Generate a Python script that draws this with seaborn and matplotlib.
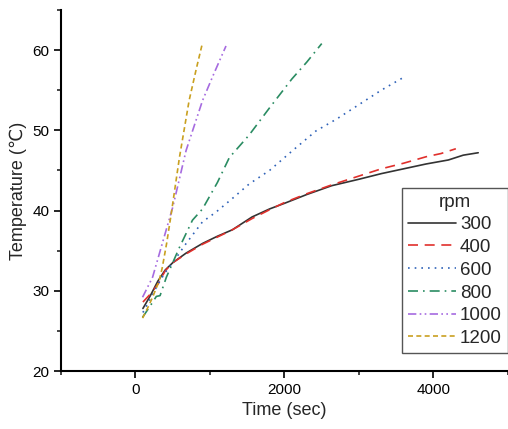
import pandas as pd
import seaborn as sns
import matplotlib.pyplot as plt
from matplotlib.ticker import MultipleLocator

# time (sec) / temperature (C) per rotation speed
t_300 = [100, 200, 300, 400, 500, 680, 900, 1100, 1300, 1565, 1800, 2000, 2300, 2635, 3000, 3300, 3600, 3900, 4200, 4400, 4600]
T_300 = [27.8, 29.4, 31.2, 32.6, 33.5, 34.7, 35.9, 36.8, 37.6, 39.2, 40.2, 40.9, 42.0, 43.1, 43.9, 44.6, 45.2, 45.8, 46.3, 46.9, 47.2]
t_400 = [100, 200, 300, 400, 500, 680, 900, 1100, 1300, 1565, 1800, 2000, 2300, 2635, 3000, 3300, 3600, 3900, 4100, 4300]
T_400 = [28.6, 29.6, 30.8, 32.5, 33.5, 34.6, 35.8, 36.7, 37.6, 39.0, 40.1, 41.0, 42.1, 43.2, 44.3, 45.2, 45.9, 46.7, 47.1, 47.7]
t_600 = [100, 200, 300, 400, 500, 680, 900, 1080, 1300, 1525, 1800, 2100, 2420, 2700, 3000, 3300, 3600]
T_600 = [27.3, 29.0, 30.8, 32.3, 33.5, 35.9, 38.6, 39.8, 41.5, 43.3, 45.0, 47.4, 49.9, 51.4, 53.2, 55.0, 56.6]
t_800 = [95, 190, 280, 330, 415, 590, 765, 900, 1100, 1260, 1525, 1800, 2100, 2300, 2500]
T_800 = [26.7, 28.0, 29.3, 29.4, 31.7, 35.4, 38.8, 40.2, 43.5, 46.6, 49.4, 52.8, 56.4, 58.5, 60.8]
t_1000 = [95, 230, 360, 500, 680, 900, 1050, 1215]
T_1000 = [29.2, 31.7, 35.9, 40.4, 47.5, 53.7, 57.0, 60.5]
t_1200 = [95, 160, 230, 320, 360, 420, 480, 590, 720, 820, 900]
T_1200 = [26.6, 27.8, 29.2, 31.3, 32.9, 36.0, 39.6, 46.6, 53.7, 57.8, 60.9]

rpms = ["300", "400", "600", "800", "1000", "1200"]
times = [t_300, t_400, t_600, t_800, t_1000, t_1200]
temps = [T_300, T_400, T_600, T_800, T_1000, T_1200]

frames = []
for r, t, T in zip(rpms, times, temps):
    frames.append(pd.DataFrame({"time": t, "temp": T, "rpm": r}))
df = pd.concat(frames, ignore_index=True)

colors = ["#333333", "#e0302c", "#2f62b8", "#2a8c62", "#a66be0", "#c9a020"]
dashes = ["", (6, 4), (1, 3), (6, 3, 1, 3), (5, 2, 1, 2, 1, 2), (3, 2)]

sns.set_style("ticks")
plt.rcParams["font.family"] = ["Liberation Sans", "DejaVu Sans"]

fig = plt.figure(figsize=(5.08, 4.29), dpi=100)
ax = fig.add_axes([0.12, 0.135, 0.88, 0.842])
sns.lineplot(data=df, x="time", y="temp", hue="rpm", style="rpm", sort=False,
             palette=dict(zip(rpms, colors)), dashes=dict(zip(rpms, dashes)),
             hue_order=rpms, style_order=rpms, linewidth=1.2, ax=ax)

ax.set_xlim(-1000, 5000)
ax.set_ylim(20, 65)
ax.set_xticks([0, 2000, 4000])
ax.xaxis.set_minor_locator(MultipleLocator(1000))
ax.yaxis.set_major_locator(MultipleLocator(10))
ax.yaxis.set_minor_locator(MultipleLocator(5))
ax.tick_params(which="major", direction="out", length=5, width=1.2, labelsize=11, colors="black")
ax.tick_params(which="minor", direction="out", length=3, width=1.2)
for s in ["left", "bottom"]:
    ax.spines[s].set_linewidth(1.5)
    ax.spines[s].set_color("black")
ax.spines["top"].set_visible(False)
ax.spines["right"].set_visible(False)
ax.set_xlabel("Time (sec)", fontsize=13)
ax.set_ylabel("Temperature (℃)", fontsize=13)

leg = ax.legend(title="rpm", loc="lower right", bbox_to_anchor=(1.02, 0.025),
                fontsize=13.5, title_fontsize=13.5, handlelength=2.6, labelspacing=0.3,
                handletextpad=0.2, borderpad=0.3, fancybox=False, framealpha=1)
leg.get_frame().set_edgecolor("#555555")
leg.get_frame().set_linewidth(1.0)

plt.savefig("out.png", dpi=100)
